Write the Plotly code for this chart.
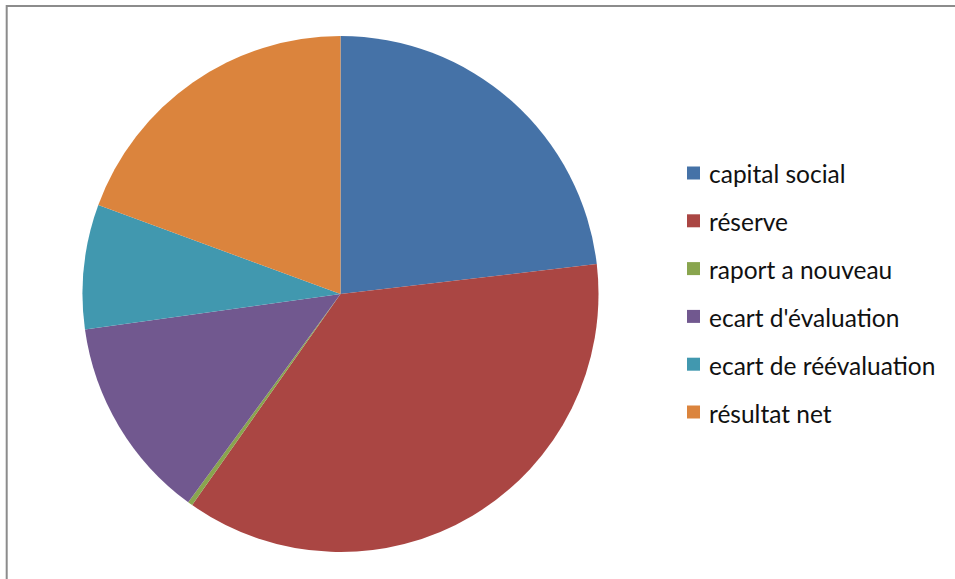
import plotly.graph_objects as go

# Equity breakdown (percent of total)
labels = ["capital social", "réserve", "raport a nouveau",
          "ecart d'évaluation", "ecart de réévaluation", "résultat net"]
values = [23.15, 36.6, 0.3, 12.75, 7.8, 19.4]
colors = ["#4572A7", "#AA4643", "#89A54E", "#71588F", "#4198AF", "#DB843D"]

W, H = 955, 579
cx, cy, r = 340.5, 294, 258

fig = go.Figure(go.Pie(
    labels=labels,
    values=values,
    sort=False,
    direction="clockwise",
    rotation=0,
    textinfo="none",
    hoverinfo="label+percent",
    marker=dict(colors=colors, line=dict(width=0)),
    showlegend=False,
    domain=dict(x=[(cx - r) / W, (cx + r) / W],
                y=[(H - cy - r) / H, (H - cy + r) / H]),
))

shapes = [
    # chart-area frame (continues past the right and bottom edges)
    dict(type="rect", xref="paper", yref="paper",
         x0=6.7 / W, x1=1.02, y0=-0.02, y1=1 - 6 / H,
         line=dict(color="#8c8c8c", width=2), fillcolor="rgba(0,0,0,0)"),
]
annotations = []

# legend: colour square + label per slice
leg_x_sq, leg_x_txt = 687, 707
leg_y0, leg_dy, sq = 173, 47.8, 13
for i, (lab, col) in enumerate(zip(labels, colors)):
    y = leg_y0 + i * leg_dy
    shapes.append(dict(type="rect", xref="paper", yref="paper",
                       x0=leg_x_sq / W, x1=(leg_x_sq + sq) / W,
                       y0=1 - (y + sq / 2) / H, y1=1 - (y - sq / 2) / H,
                       line=dict(width=0), fillcolor=col))
    annotations.append(dict(xref="paper", yref="paper",
                            x=leg_x_txt / W, y=1 - (y + 1) / H,
                            xanchor="left", yanchor="middle",
                            text=lab, showarrow=False,
                            font=dict(family="Lato", size=24.5, color="#111111")))

fig.update_layout(
    width=W, height=H,
    margin=dict(l=0, r=0, t=0, b=0),
    paper_bgcolor="white",
    plot_bgcolor="white",
    shapes=shapes,
    annotations=annotations,
)

fig.write_html("out.html")
